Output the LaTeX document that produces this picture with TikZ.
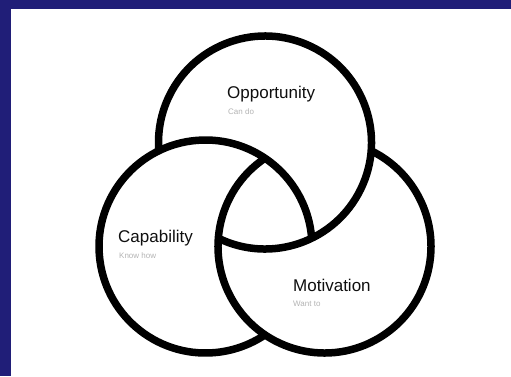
\documentclass[tikz,border=0pt]{standalone}
\usepackage{fontspec}
\setmainfont{Liberation Sans}
\definecolor{navy}{RGB}{32,30,120}
\definecolor{subgray}{RGB}{180,180,180}
\definecolor{ink}{RGB}{15,15,15}
\begin{document}
\begin{tikzpicture}[x=1pt,y=1pt,
  ring/.style={line width=7.5pt, draw=black, line cap=butt},
  title/.style={anchor=base west, inner sep=0pt, font=\fontsize{17}{20}\selectfont, text=ink},
  sub/.style={anchor=base west, inner sep=0pt, font=\fontsize{8}{10}\selectfont, text=subgray}]
\useasboundingbox (0,0) rectangle (511,-376);
\fill[navy] (0,0) rectangle (511,-376);
\fill[white] (11,-9) rectangle (511,-376);
% centres
\coordinate (T) at (265,-142.5);
\coordinate (L) at (205.5,-246.5);
\coordinate (R) at (324.5,-246.5);
\def\rr{106.5}
% top circle (hidden inside left between D and A)
\draw[ring] ([shift={(244:\rr)}]T) arc[start angle=244, end angle=544.45, radius=\rr];
% left circle (hidden inside right between F and C)
\draw[ring] ([shift={(4.45:\rr)}]L) arc[start angle=4.45, end angle=304, radius=\rr];
% right circle (hidden inside top between B and E)
\draw[ring] ([shift={(124:\rr)}]R) arc[start angle=124, end angle=424, radius=\rr];
% labels
\node[title] (opp) at (227,-98) {Opportunity};
\node[sub] (oppsub) at (228,-114) {Can do};
\node[title] (cap) at (118,-242) {Capability};
\node[sub] (capsub) at (119,-258) {Know how};
\node[title] (mot) at (293,-291) {Motivation};
\node[sub] (motsub) at (293,-306) {Want to};
\end{tikzpicture}
\end{document}
